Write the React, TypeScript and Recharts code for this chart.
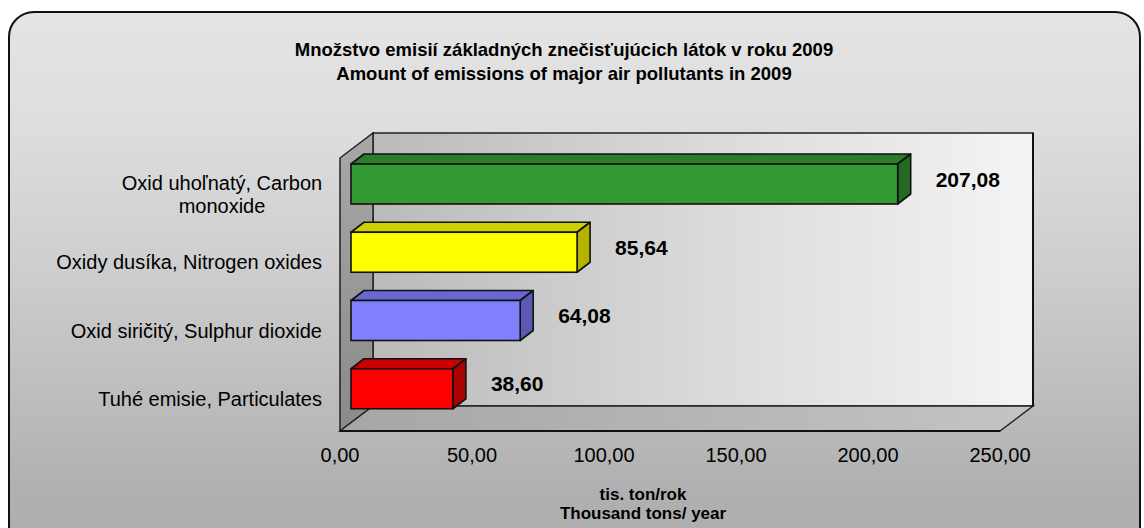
import React from 'react';
import { BarChart, Bar, XAxis, YAxis, ReferenceArea, LabelList } from 'recharts';

// ---- data ----
const categoryLines: string[][] = [
  ['Oxid uhoľnatý, Carbon', 'monoxide'],
  ['Oxidy dusíka, Nitrogen oxides'],
  ['Oxid siričitý, Sulphur dioxide'],
  ['Tuhé emisie, Particulates'],
];
const emissions: number[] = [207.08, 85.64, 64.08, 38.6];
const xTicks: number[] = [0, 50, 100, 150, 200, 250];
const titleLines: string[] = [
  'Množstvo emisií základných znečisťujúcich látok v roku 2009',
  'Amount of emissions of major air pollutants in 2009',
];
const axisTitleLines: string[] = ['tis. ton/rok', 'Thousand tons/ year'];

// ---- styles ----
const barFront = ['#339933', '#ffff00', '#8080ff', '#ff0000'];
const barTop = ['#2a7d2a', '#d0d000', '#6868d0', '#cc0000'];
const barSide = ['#236b23', '#b3b300', '#5a5ab4', '#ad0000'];
const FONT = '"Liberation Sans", Arial, sans-serif';

const W = 1144;
const H = 528;
// 3D depth of the plot box
const DX = 33;
const DY = -25;
// bar placement inside depth
const BFX = 11;
const BFY = -8;
const BDX = 13;
const BDY = -10;

const fmt = (v: number) => v.toFixed(2).replace('.', ',');

const data = categoryLines.map((lines, i) => ({
  name: lines.join(' '),
  value: emissions[i],
  idx: i,
}));

const Walls = (props: any) => {
  const { x, y, width, height } = props;
  const b = y + height;
  return (
    <g>
      <defs>
        <linearGradient id="backWallGrad" x1="0" y1="0" x2="1" y2="0">
          <stop offset="0" stopColor="#bababa" />
          <stop offset="0.5" stopColor="#dadada" />
          <stop offset="1" stopColor="#f4f4f4" />
        </linearGradient>
        <linearGradient id="leftWallGrad" x1="0" y1="0" x2="0" y2="1">
          <stop offset="0" stopColor="#a8a8a8" />
          <stop offset="1" stopColor="#8a8a8a" />
        </linearGradient>
        <linearGradient id="floorGrad" x1="0" y1="0" x2="1" y2="0">
          <stop offset="0" stopColor="#a6a6a6" />
          <stop offset="1" stopColor="#c4c4c4" />
        </linearGradient>
      </defs>
      <rect
        x={x + DX}
        y={y + DY}
        width={width}
        height={height}
        fill="url(#backWallGrad)"
        stroke="#222"
        strokeWidth={1.5}
      />
      <polygon
        points={`${x},${y} ${x + DX},${y + DY} ${x + DX},${b + DY} ${x},${b}`}
        fill="url(#leftWallGrad)"
        stroke="#222"
        strokeWidth={1.5}
      />
      <polygon
        points={`${x},${b} ${x + DX},${b + DY} ${x + width + DX},${b + DY} ${x + width},${b}`}
        fill="url(#floorGrad)"
        stroke="#222"
        strokeWidth={1.5}
      />
      <line x1={x} y1={b} x2={x + width} y2={b} stroke="#111" strokeWidth={2} />
      <line x1={x + width + DX} y1={y + DY} x2={x + width + DX} y2={b + DY} stroke="#111" strokeWidth={2} />
    </g>
  );
};

const Bar3D = (props: any) => {
  const { x, y, width, height, index } = props;
  const i = index ?? 0;
  const fx = x + BFX;
  const fy = y + BFY;
  const r = fx + width;
  const bt = fy + height;
  const top = `${fx},${fy} ${fx + BDX},${fy + BDY} ${r + BDX},${fy + BDY} ${r},${fy}`;
  const side = `${r},${fy} ${r + BDX},${fy + BDY} ${r + BDX},${bt + BDY} ${r},${bt}`;
  return (
    <g>
      <polygon points={top} fill={barTop[i]} stroke="#111" strokeWidth={1.6} strokeLinejoin="round" />
      <polygon points={side} fill={barSide[i]} stroke="#111" strokeWidth={1.6} strokeLinejoin="round" />
      <rect x={fx} y={fy} width={width} height={height} fill={barFront[i]} stroke="#111" strokeWidth={1.6} />
    </g>
  );
};

const ValueLabel = (props: any) => {
  const { x, y, width, height, value } = props;
  const fx = x + BFX + width;
  const cy = y + BFY + height / 2 - 5;
  return (
    <text
      x={fx + 38}
      y={cy + 7.5}
      fontFamily={FONT}
      fontSize={21}
      fontWeight="bold"
      fill="#000"
    >
      {fmt(Number(value))}
    </text>
  );
};

const YTick = (props: any) => {
  const { x, y, payload, index } = props;
  const i = payload?.index ?? index ?? 0;
  const lines = categoryLines[i] || [String(payload?.value)];
  if (lines.length === 1) {
    return (
      <text x={x} y={y + 9} textAnchor="end" fontFamily={FONT} fontSize={20} fill="#000">
        {lines[0]}
      </text>
    );
  }
  const cx = x - 100;
  return (
    <text fontFamily={FONT} fontSize={20} fill="#000" textAnchor="middle">
      {lines.map((l, k) => (
        <tspan key={k} x={cx} y={y - 2 + k * 23}>
          {l}
        </tspan>
      ))}
    </text>
  );
};

const XTick = (props: any) => {
  const { x, y, payload } = props;
  return (
    <text x={x} y={y + 23} textAnchor="middle" fontFamily={FONT} fontSize={20} fill="#000">
      {fmt(Number(payload.value))}
    </text>
  );
};

export default function App() {
  return (
    <div style={{ position: 'absolute', left: 0, top: 0, width: W, height: H, overflow: 'hidden', background: '#fff' }}>
      <div
        style={{
          position: 'absolute',
          left: 8,
          top: 11,
          width: W - 8 - 3,
          height: H + 20,
          boxSizing: 'border-box',
          border: '2px solid #111',
          borderRadius: 26,
          background:
            'linear-gradient(to bottom, #e4e4e4 0%, #dedede 20%, #cfcfcf 45%, #bdbdbd 70%, #b0b0b0 88%, #adadad 100%)',
        }}
      />
      <div style={{ position: 'absolute', left: 0, top: 0 }}>
        <BarChart
          width={W}
          height={H}
          data={data}
          layout="vertical"
          margin={{ top: 158, right: 144, bottom: 0, left: 10 }}
          barSize={40}
        >
          <ReferenceArea x1={0} x2={250} ifOverflow="visible" shape={Walls} />
          <XAxis
            type="number"
            domain={[0, 250]}
            ticks={xTicks}
            height={97}
            axisLine={false}
            tickLine={false}
            tick={XTick}
            interval={0}
          />
          <YAxis
            type="category"
            dataKey="name"
            width={330}
            axisLine={false}
            tickLine={false}
            tickSize={8}
            tickMargin={10}
            tick={YTick}
            interval={0}
          />
          <Bar dataKey="value" isAnimationActive={false} shape={Bar3D}>
            <LabelList dataKey="value" content={ValueLabel} />
          </Bar>
        </BarChart>
      </div>
      <svg width={W} height={H} style={{ position: 'absolute', left: 0, top: 0, pointerEvents: 'none' }}>
        {titleLines.map((t, k) => (
          <text
            key={k}
            x={564}
            y={56 + k * 24}
            textAnchor="middle"
            fontFamily={FONT}
            fontSize={18.5}
            fontWeight="bold"
            fill="#000"
          >
            {t}
          </text>
        ))}
        {axisTitleLines.map((t, k) => (
          <text
            key={k}
            x={643}
            y={500 + k * 19}
            textAnchor="middle"
            fontFamily={FONT}
            fontSize={17}
            fontWeight="bold"
            fill="#000"
          >
            {t}
          </text>
        ))}
      </svg>
    </div>
  );
}
